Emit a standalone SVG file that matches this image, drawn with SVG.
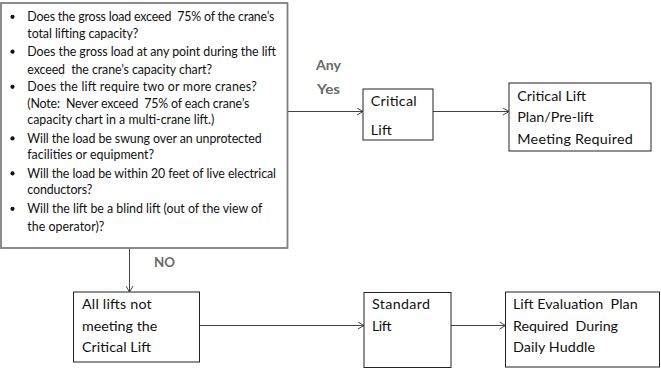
<svg xmlns="http://www.w3.org/2000/svg" width="661" height="371" viewBox="0 0 661 371">
<style>
text{white-space:pre}
.box{fill:#fff;stroke:#222;stroke-width:1}
.big{fill:#fff;stroke:#7f7f7f;stroke-width:1.8}
.t{font-family:Lato,"Liberation Sans",sans-serif;font-size:14.3px;fill:#111}
.l{font-family:Lato,"Liberation Sans",sans-serif;font-size:12.4px;fill:#111}
.lab{font-family:Lato,"Liberation Sans",sans-serif;font-size:13px;font-weight:bold;fill:#6a6a6a}
.c{fill:none;stroke:#444;stroke-width:1}
</style>
<defs>
<marker id="ah" markerWidth="8" markerHeight="8" refX="7" refY="4" orient="auto" markerUnits="userSpaceOnUse">
<path d="M1,0.5 L7,4 L1,7.5" fill="none" stroke="#444" stroke-width="1"/>
</marker>
</defs>
<g id="connectors">
<line class="c" x1="288" y1="111.5" x2="363" y2="111.5" marker-end="url(#ah)"/>
<line class="c" x1="433" y1="111.5" x2="509" y2="111.5" marker-end="url(#ah)"/>
<line class="c" x1="129.5" y1="248" x2="129.5" y2="292" marker-end="url(#ah)"/>
<line class="c" x1="199.5" y1="325.5" x2="364" y2="325.5" marker-end="url(#ah)"/>
<line class="c" x1="451" y1="325.5" x2="505.5" y2="325.5" marker-end="url(#ah)"/>
<text class="lab" x="316" y="69.5" textLength="25" lengthAdjust="spacingAndGlyphs">Any</text>
<text class="lab" x="317" y="94" textLength="23" lengthAdjust="spacingAndGlyphs">Yes</text>
<text class="lab" x="154" y="267" textLength="21" lengthAdjust="spacingAndGlyphs">NO</text>
</g>
<g id="questions">
<rect class="big" x="1" y="3" width="286.5" height="245"/>
<g fill="#111">
<circle cx="12.5" cy="16.8" r="2.1"/>
<circle cx="12.5" cy="51.7" r="2.1"/>
<circle cx="12.5" cy="86.8" r="2.1"/>
<circle cx="12.5" cy="138.4" r="2.1"/>
<circle cx="12.5" cy="173.4" r="2.1"/>
<circle cx="12.5" cy="208.8" r="2.1"/>
</g>
<text class="l" x="27.3" y="21.2" textLength="247" lengthAdjust="spacing">Does the gross load exceed  75% of the crane’s</text>
<text class="l" x="27.3" y="38.3" textLength="111" lengthAdjust="spacing">total lifting capacity?</text>
<text class="l" x="27.3" y="56" textLength="248.7" lengthAdjust="spacing">Does the gross load at any point during the lift</text>
<text class="l" x="27.3" y="73.6" textLength="184.7" lengthAdjust="spacing">exceed  the crane’s capacity chart?</text>
<text class="l" x="27.3" y="91.3" textLength="229.4" lengthAdjust="spacing">Does the lift require two or more cranes?</text>
<text class="l" x="27.3" y="107.7" textLength="222" lengthAdjust="spacing">(Note:  Never exceed  75% of each crane’s</text>
<text class="l" x="27.3" y="124" textLength="187" lengthAdjust="spacing">capacity chart in a multi-crane lift.)</text>
<text class="l" x="27.3" y="142.7" textLength="234.4" lengthAdjust="spacing">Will the load be swung over an unprotected</text>
<text class="l" x="27.3" y="159.4" textLength="126.7" lengthAdjust="spacing">facilities or equipment?</text>
<text class="l" x="27.3" y="177.6" textLength="248.7" lengthAdjust="spacing">Will the load be within 20 feet of live electrical</text>
<text class="l" x="27.3" y="194.4" textLength="65" lengthAdjust="spacing">conductors?</text>
<text class="l" x="27.3" y="213.4" textLength="235" lengthAdjust="spacing">Will the lift be a blind lift (out of the view of</text>
<text class="l" x="27.3" y="230.8" textLength="77" lengthAdjust="spacing">the operator)?</text>
</g>
<g id="critical-lift">
<rect class="box" x="363" y="89" width="70" height="51"/>
<text class="t" x="370.7" y="106" textLength="46" lengthAdjust="spacing">Critical</text>
<text class="t" x="370.7" y="135" textLength="21" lengthAdjust="spacing">Lift</text>
</g>
<g id="critical-plan">
<rect class="box" x="509" y="83" width="142" height="68"/>
<text class="t" x="517.3" y="100.5" textLength="68.7" lengthAdjust="spacing">Critical Lift</text>
<text class="t" x="517.3" y="122">Plan/Pre-lift</text>
<text class="t" x="517.3" y="143.5" textLength="115.4" lengthAdjust="spacing">Meeting Required</text>
</g>
<g id="all-lifts">
<rect class="box" x="73.5" y="292" width="126" height="70"/>
<text class="t" x="82" y="309" textLength="69.7" lengthAdjust="spacing">All lifts not</text>
<text class="t" x="82" y="330.5">meeting the</text>
<text class="t" x="82" y="352" textLength="69" lengthAdjust="spacing">Critical Lift</text>
</g>
<g id="standard-lift">
<rect class="box" x="364" y="292.5" width="87" height="75"/>
<text class="t" x="372" y="309" textLength="58" lengthAdjust="spacing">Standard</text>
<text class="t" x="372" y="330.5" textLength="19.5" lengthAdjust="spacing">Lift</text>
</g>
<g id="lift-evaluation">
<rect class="box" x="505.5" y="292" width="154" height="75"/>
<text class="t" x="513" y="309" textLength="124.7" lengthAdjust="spacing">Lift Evaluation  Plan</text>
<text class="t" x="513" y="330.5" textLength="105" lengthAdjust="spacing">Required  During</text>
<text class="t" x="513" y="352" textLength="82" lengthAdjust="spacing">Daily Huddle</text>
</g>
</svg>
